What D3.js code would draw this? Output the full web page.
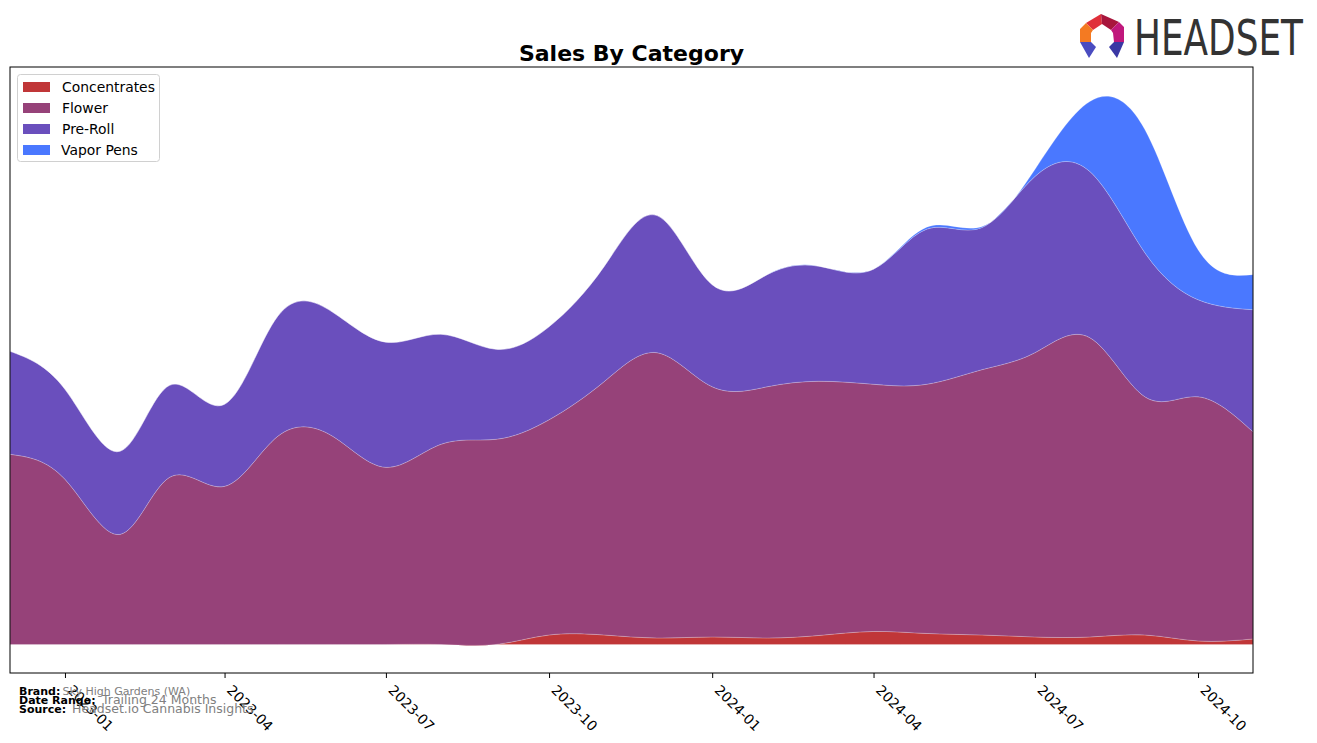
<!DOCTYPE html>
<html>
<head>
<meta charset="utf-8">
<script src="https://cdn.jsdelivr.net/npm/d3@7"></script>
<style>
  html, body { margin: 0; padding: 0; background: #fff; }
  svg { display: block; }
  text { font-family: "DejaVu Sans", sans-serif; }
</style>
</head>
<body>
<svg id="chart" width="1317" height="743"></svg>
<script>
// ---- data ----
const months = ["2022-12","2023-01","2023-02","2023-03","2023-04","2023-05","2023-06","2023-07","2023-08","2023-09","2023-10","2023-11","2023-12","2024-01","2024-02","2024-03","2024-04","2024-05","2024-06","2024-07","2024-08","2024-09","2024-10","2024-11"];
const categories = ["Concentrates","Flower","Pre-Roll","Vapor Pens"];
const concentrates = [0,0,0,0,0,0,0,0,0,0,9.5,9.5,6.5,7.5,6.5,9,13,11,9.5,7.5,7.5,9.5,3.5,5.5];
const flower = [190,165,110,167,158,208,208,177,200,205,215,253,285,250,251,254,247,249,265,284,299,238,244,207];
const preRoll = [103,90,83,92,82,120,124,125,110,90,93,115,137,102,112,115,115,155,142,176,166,144,97,122];
const vaporPens = [0,0,0,0,0,0,0,0,0,0,0,0,0,0,0,0,0,2,1,7,70,123,50,35];
const tickLabels = ["2023-01","2023-04","2023-07","2023-10","2024-01","2024-04","2024-07","2024-10"];
const colors = ["#c03638","#964279","#6a4fbd","#4a78ff"];

// ---- layout ----
const svg = d3.select("#chart");
const L = 10, R = 1253, T = 67, B = 673;
const parse = d3.timeParse("%Y-%m");
const series = [concentrates, flower, preRoll, vaporPens];
const rows = months.map((m, i) => {
  const o = { date: parse(m) };
  categories.forEach((c, k) => o[c] = series[k][i]);
  return o;
});

const x = d3.scaleTime().domain([parse(months[0]), parse(months[months.length - 1])]).range([L, R]);
const y = d3.scaleLinear().domain([-28.5, 577]).range([B, T]);

const layers = d3.stack().keys(categories)(rows);

const area = d3.area()
  .x(d => x(d.data.date))
  .y0(d => y(d[0]))
  .y1(d => y(d[1]))
  .curve(d3.curveNatural);

svg.append("defs").append("clipPath").attr("id", "clip")
  .append("rect").attr("x", L).attr("y", T).attr("width", R - L).attr("height", B - T);

const g = svg.append("g").attr("clip-path", "url(#clip)");
g.selectAll("path.layer").data(layers).join("path")
  .attr("class", "layer")
  .attr("d", area)
  .attr("fill", (d, i) => colors[i])
  .attr("stroke", "#ffffff")
  .attr("stroke-opacity", 0.35)
  .attr("stroke-width", 0.6);

// frame
svg.append("rect").attr("x", L).attr("y", T).attr("width", R - L).attr("height", B - T)
  .attr("fill", "none").attr("stroke", "#000").attr("stroke-width", 1);

// x axis
const xAxis = d3.axisBottom(x)
  .tickValues(tickLabels.map(parse))
  .tickFormat(d3.timeFormat("%Y-%m"))
  .tickSize(5).tickPadding(3);
const ax = svg.append("g").attr("transform", `translate(0,${B})`).call(xAxis);
ax.select(".domain").remove();
ax.selectAll(".tick line").attr("stroke", "#000");
ax.selectAll(".tick text")
  .attr("font-family", "DejaVu Sans, sans-serif")
  .attr("font-size", 13.9)
  .attr("fill", "#000")
  .attr("text-anchor", "start")
  .attr("x", 0).attr("y", 0).attr("dy", 0)
  .attr("transform", "translate(1,18) rotate(45)");

// title
svg.append("text").attr("x", 631.5).attr("y", 60.5).attr("text-anchor", "middle")
  .attr("font-size", 22).attr("font-weight", "bold").attr("fill", "#000").text("Sales By Category");

// legend
const lg = svg.append("g");
lg.append("rect").attr("x", 17.5).attr("y", 74.5).attr("width", 142).attr("height", 87)
  .attr("rx", 3).attr("fill", "#fff").attr("fill-opacity", 0.8).attr("stroke", "#d0d0d0");
categories.forEach((c, i) => {
  const cy = 87 + i * 21;
  lg.append("rect").attr("x", 23).attr("y", cy - 5).attr("width", 27).attr("height", 10).attr("fill", colors[i]);
  lg.append("text").attr("x", i === 3 ? 61 : 62).attr("y", cy + 5).attr("font-size", 13.9).attr("fill", "#000").text(c);
});

// footer
const foot = [
  ["Brand:", "Sky High Gardens (WA)", 62.5, 695, 11],
  ["Date Range:", "Trailing 24 Months", 102, 704, 12.5],
  ["Source:", "Headset.io Cannabis Insights", 72, 713, 12.5]
];
foot.forEach(f => {
  svg.append("text").attr("x", 19).attr("y", f[3]).attr("font-size", 11).attr("font-weight", "bold").attr("fill", "#000").text(f[0]);
  svg.append("text").attr("x", f[2]).attr("y", f[3]).attr("font-size", f[4]).attr("fill", "#808080").text(f[1]);
});

// logo
const logo = svg.append("g");
const polys = [
  [[[1086,23],[1101,14],[1102,24],[1093,30]], "#e0303a"],
  [[[1101,14],[1119,22],[1111,30],[1102,24]], "#a8163c"],
  [[[1119,22],[1124,27],[1124,42],[1114,42],[1113,33],[1111,30]], "#c0187c"],
  [[[1086,23],[1093,30],[1091,33],[1091,42],[1080,42],[1080,29]], "#f47a22"],
  [[[1080,42],[1091,42],[1096,47],[1089,58]], "#4a4cc0"],
  [[[1114,42],[1124,42],[1117,58],[1109,47]], "#3a38a4"]
];
polys.forEach(p => logo.append("polygon").attr("points", p[0].map(q => q.join(",")).join(" ")).attr("fill", p[1]));
const lt = logo.append("text").attr("x", 0).attr("y", 0)
  .attr("font-family", "DejaVu Sans Condensed, DejaVu Sans, sans-serif")
  .attr("font-size", 50).attr("fill", "#333").text("HEADSET");
const w = lt.node().getComputedTextLength();
lt.attr("transform", `translate(1134,55) scale(${169 / w},1)`);
</script>
</body>
</html>
